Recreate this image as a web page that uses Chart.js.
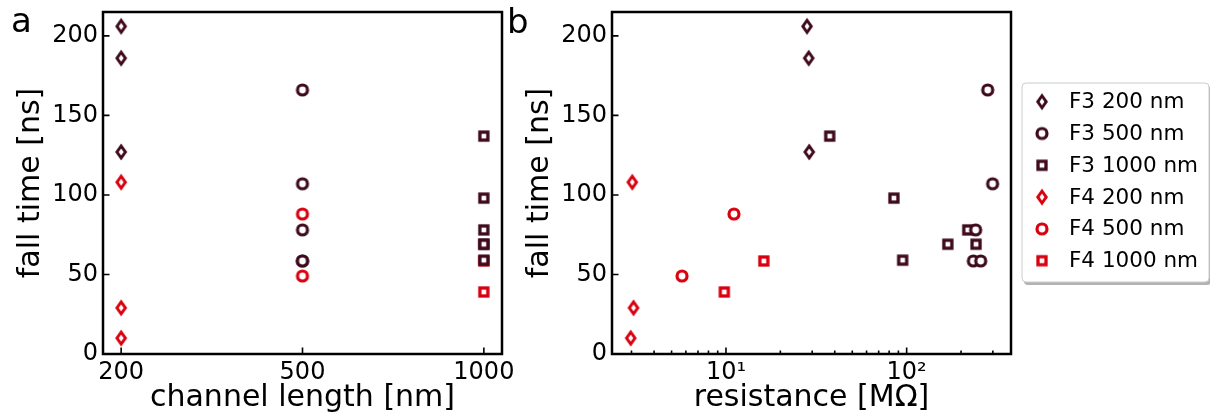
<!DOCTYPE html>
<html><head><meta charset="utf-8">
<script src="https://cdn.jsdelivr.net/npm/chart.js@4"></script>
<style>
html,body{margin:0;padding:0;background:#fff;width:1210px;height:414px;overflow:hidden}
canvas{position:absolute;left:0;top:0}
</style></head>
<body>
<canvas id="ca" width="1210" height="414"></canvas>
<canvas id="cb" width="1210" height="414"></canvas>
<script>
// ---------- data ----------
const lengthLabels = ['200', '500', '1000'];
const yTickValues = [0, 50, 100, 150, 200];
const resTickValues = [3, 4, 5, 6, 7, 8, 9, 10, 20, 30, 40, 50, 60, 70, 80, 90, 100, 200, 300];
const resTickLabels = {10: '10\u00B9', 100: '10\u00B2'};

const seriesNames = ['F3 200 nm', 'F3 500 nm', 'F3 1000 nm', 'F4 200 nm', 'F4 500 nm', 'F4 1000 nm'];
const seriesLengthIndex = [0, 1, 2, 0, 1, 2];
const seriesShapes = ['diamond', 'circle', 'square', 'diamond', 'circle', 'square'];

const f3_200_fall = [206, 186, 127];
const f3_200_res  = [28.1, 28.7, 28.9];
const f3_500_fall = [166, 107, 78, 58.5, 58.5];
const f3_500_res  = [281, 299, 241, 234, 257];
const f3_1000_fall = [137, 98, 78, 69, 69, 59];
const f3_1000_res  = [37.5, 85, 218, 169, 242, 95];
const f4_200_fall = [108, 29, 10];
const f4_200_res  = [3.03, 3.08, 2.97];
const f4_500_fall = [88, 49];
const f4_500_res  = [11.07, 5.71];
const f4_1000_fall = [58.5, 39];
const f4_1000_res  = [16.2, 9.79];

const seriesFall = [f3_200_fall, f3_500_fall, f3_1000_fall, f4_200_fall, f4_500_fall, f4_1000_fall];
const seriesRes  = [f3_200_res, f3_500_res, f3_1000_res, f4_200_res, f4_500_res, f4_1000_res];

// ---------- styles ----------
const C_F3 = '#3e0a1c';
const C_F4 = '#d9000f';
const seriesColors = [C_F3, C_F3, C_F3, C_F4, C_F4, C_F4];
const FONT = 'DejaVu Sans';

function makeMarker(shape, color) {
  const c = document.createElement('canvas');
  const ctx = c.getContext('2d');
  if (shape === 'diamond') {
    c.width = 18; c.height = 24;
    const cx = 9, cy = 12, hw = 4.2, hh = 6.0;
    ctx.beginPath();
    ctx.moveTo(cx, cy - hh); ctx.lineTo(cx + hw, cy); ctx.lineTo(cx, cy + hh); ctx.lineTo(cx - hw, cy); ctx.closePath();
    ctx.fillStyle = '#fff'; ctx.fill();
    ctx.lineJoin = 'miter'; ctx.miterLimit = 10;
    ctx.lineWidth = 3.0; ctx.strokeStyle = color; ctx.stroke();
  } else if (shape === 'circle') {
    c.width = 18; c.height = 18;
    ctx.beginPath(); ctx.arc(9, 9, 5.0, 0, Math.PI * 2);
    ctx.fillStyle = '#fff'; ctx.fill();
    ctx.lineWidth = 3.2; ctx.strokeStyle = color; ctx.stroke();
  } else {
    c.width = 16; c.height = 16;
    ctx.fillStyle = '#fff'; ctx.fillRect(4, 4, 8, 8);
    ctx.lineJoin = 'miter';
    ctx.lineWidth = 3.3; ctx.strokeStyle = color; ctx.strokeRect(4, 4, 8, 8);
  }
  return c;
}
const seriesMarkers = seriesShapes.map((s, i) => makeMarker(s, seriesColors[i]));

Chart.defaults.font.family = FONT;
Chart.defaults.color = '#000';

// ---------- plugins ----------
const framePlugin = {
  id: 'frame',
  beforeDatasetsDraw(chart, args, opts) {
    const {ctx, chartArea: a} = chart;
    const xs = chart.scales.x, ys = chart.scales.y;
    ctx.save();
    ctx.strokeStyle = '#000';
    ctx.lineWidth = 1.6;
    ctx.beginPath();
    ys.ticks.forEach(t => {
      const y = ys.getPixelForValue(t.value);
      ctx.moveTo(a.left, y); ctx.lineTo(a.left + 6.5, y);
    });
    xs.ticks.forEach(t => {
      const x = xs.getPixelForValue(t.value);
      const len = t.major === false ? 3.5 : 6.5;
      ctx.moveTo(x, a.bottom); ctx.lineTo(x, a.bottom - len);
    });
    ctx.stroke();
    ctx.lineWidth = 2.5;
    ctx.strokeRect(a.left, a.top, a.width, a.height);
    ctx.font = '34px "' + FONT + '"';
    ctx.fillStyle = '#000';
    ctx.textBaseline = 'alphabetic';
    ctx.fillText(opts.letter, opts.lx, opts.ly);
    ctx.restore();
  }
};

const legendPlugin = {
  id: 'boxLegend',
  afterDraw(chart) {
    const ctx = chart.ctx;
    const x0 = 1022, y0 = 83, w = 187, h = 199, r = 4;
    ctx.save();
    ctx.fillStyle = 'rgba(0,0,0,0.3)';
    ctx.beginPath(); ctx.roundRect(x0 + 2, y0 + 3, w, h, r); ctx.fill();
    ctx.fillStyle = '#fff';
    ctx.beginPath(); ctx.roundRect(x0, y0, w, h, r); ctx.fill();
    ctx.strokeStyle = '#cccccc'; ctx.lineWidth = 1;
    ctx.stroke();
    ctx.font = '21.5px "' + FONT + '"';
    ctx.fillStyle = '#000';
    ctx.textBaseline = 'middle';
    chart.data.datasets.forEach((ds, i) => {
      const cy = y0 + 18.7 + 31.8 * i;
      const m = ds.pointStyle;
      ctx.drawImage(m, 1042 - m.width / 2, cy - m.height / 2);
      ctx.fillText(ds.label, 1069, cy + 1);
    });
    ctx.restore();
  }
};

function noPad(s) { s.paddingTop = 0; s.paddingBottom = 0; s.paddingLeft = 0; s.paddingRight = 0; }

function yAxis() {
  return {
    type: 'linear', min: 0, max: 215,
    afterBuildTicks: s => { s.ticks = yTickValues.map(v => ({value: v})); },
    afterFit: s => { s.width = 103; noPad(s); },
    ticks: {font: {size: 24}, color: '#000', padding: 5},
    grid: {display: false, drawTicks: false},
    border: {display: false},
    title: {display: true, text: 'fall time [ns]', color: '#000', font: {size: 30, lineHeight: 1}, padding: {top: 16, bottom: 0}}
  };
}

// ---------- chart a ----------
new Chart(document.getElementById('ca'), {
  type: 'scatter',
  data: {
    datasets: seriesNames.map((name, i) => ({
      label: name,
      data: seriesFall[i].map(v => ({x: seriesLengthIndex[i], y: v})),
      pointStyle: seriesMarkers[i],
      pointRadius: 6,
      borderColor: seriesColors[i],
      backgroundColor: '#fff'
    }))
  },
  options: {
    responsive: false, animation: false,
    layout: {padding: {top: 12, left: 0, right: 1210 - 502, bottom: 0}},
    plugins: {legend: {display: false}, tooltip: {enabled: false}, frame: {letter: 'a', lx: 11, ly: 32}},
    scales: {
      x: {
        type: 'linear', min: -0.1, max: 2.1,
        afterBuildTicks: s => { s.ticks = lengthLabels.map((_, i) => ({value: i})); },
        afterFit: s => { s.height = 60; noPad(s); },
        ticks: {font: {size: 24}, color: '#000', padding: 4, maxRotation: 0, autoSkip: false,
                callback: v => lengthLabels[v] ?? ''},
        grid: {display: false, drawTicks: false},
        border: {display: false},
        title: {display: true, text: 'channel length [nm]', color: '#000', font: {size: 30, lineHeight: 1}, padding: {top: 0, bottom: 1}}
      },
      y: yAxis()
    }
  },
  plugins: [framePlugin]
});

// ---------- chart b ----------
new Chart(document.getElementById('cb'), {
  type: 'scatter',
  data: {
    datasets: seriesNames.map((name, i) => ({
      label: name,
      data: seriesRes[i].map((r, j) => ({x: r, y: seriesFall[i][j]})),
      pointStyle: seriesMarkers[i],
      pointRadius: 6,
      borderColor: seriesColors[i],
      backgroundColor: '#fff'
    }))
  },
  options: {
    responsive: false, animation: false,
    layout: {padding: {top: 12, left: 612 - 103, right: 1210 - 1011, bottom: 0}},
    plugins: {legend: {display: false}, tooltip: {enabled: false}, frame: {letter: 'b', lx: 507, ly: 33}},
    scales: {
      x: {
        type: 'logarithmic', min: 2.34, max: 378,
        afterBuildTicks: s => { s.ticks = resTickValues.map(v => ({value: v, major: resTickLabels[v] !== undefined})); },
        afterFit: s => { s.height = 60; noPad(s); },
        ticks: {font: {size: 24}, color: '#000', padding: 4, maxRotation: 0, autoSkip: false,
                callback: v => resTickLabels[v] ?? ''},
        grid: {display: false, drawTicks: false},
        border: {display: false},
        title: {display: true, text: 'resistance [M\u03A9]', color: '#000', font: {size: 30, lineHeight: 1}, padding: {top: 0, bottom: 1}}
      },
      y: yAxis()
    }
  },
  plugins: [framePlugin, legendPlugin]
});
</script>
</body></html>
